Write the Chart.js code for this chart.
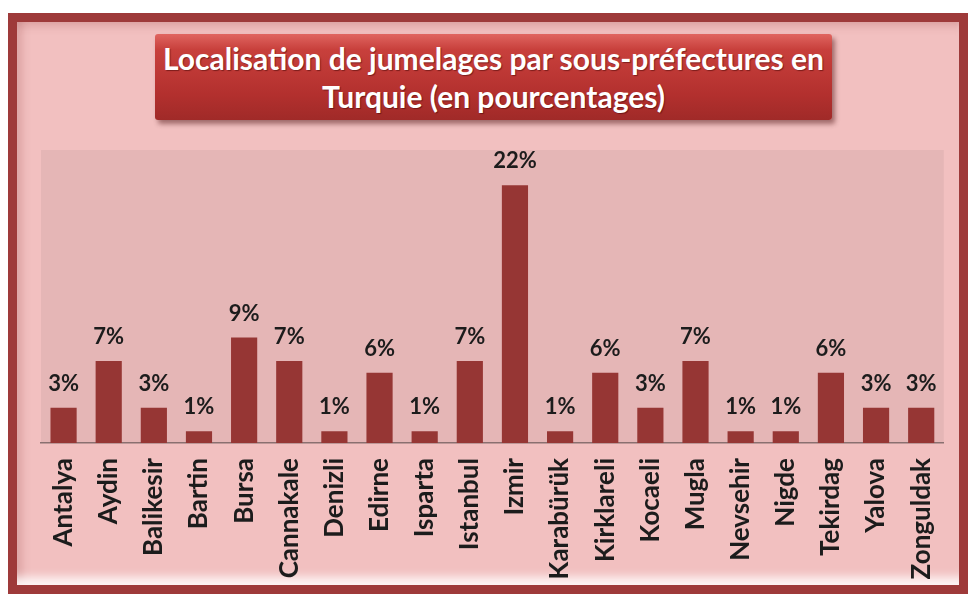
<!DOCTYPE html>
<html>
<head>
<meta charset="utf-8">
<script src="https://cdn.jsdelivr.net/npm/chart.js@4/dist/chart.umd.min.js"></script>
<style>
  html, body { margin: 0; padding: 0; background: #ffffff; }
  body { width: 968px; height: 594px; position: relative; overflow: hidden; }
  .frame {
    position: absolute; left: 8px; top: 13px; width: 942px; height: 563px;
    border: 9px solid #9e3a3a; background: #f2c0c0;
    box-shadow: inset 0 -14px 10px -6px rgba(255,255,255,0.85),
                inset 10px 0 10px -6px rgba(140,50,50,0.25),
                inset 0 10px 10px -6px rgba(140,50,50,0.2);
  }
  .title {
    position: absolute; left: 155px; top: 34px; width: 677px; height: 86px;
    background: linear-gradient(#e06560 0%, #c8403c 18%, #b3302e 70%, #a02a28 100%);
    border-radius: 3px;
    box-shadow: 3px 4px 5px rgba(60,0,0,0.45);
    color: #ffffff; font-family: Lato, sans-serif; font-weight: bold;
    font-size: 30px; line-height: 38px; text-align: center;
    padding-top: 5px; box-sizing: border-box; white-space: nowrap;
    text-shadow: 1px 1px 1px rgba(60,0,0,0.5);
  }
  canvas { position: absolute; left: 0; top: 0; }
</style>
</head>
<body>
<div class="frame"></div>
<div class="title">Localisation de jumelages par sous-préfectures en<br>Turquie (en pourcentages)</div>
<canvas id="chart" width="968" height="594"></canvas>
<script>
const cities = ['Antalya', 'Aydin', 'Balikesir', 'Bartin', 'Bursa', 'Cannakale', 'Denizli', 'Edirne', 'Isparta', 'Istanbul',
    'Izmir', 'Karabürük', 'Kirklareli', 'Kocaeli', 'Mugla', 'Nevsehir', 'Nigde', 'Tekirdag', 'Yalova', 'Zonguldak'];
const percentages = [3, 7, 3, 1, 9, 7, 1, 6, 1, 7, 22, 1, 6, 3, 7, 1, 1, 6, 3, 3];

const plotBackground = {
    id: 'plotBackground',
    beforeDraw: (chart) => {
        const { ctx, chartArea } = chart;
        ctx.save();
        ctx.fillStyle = '#e5b6b6';
        ctx.fillRect(chartArea.left, chartArea.top, chartArea.right - chartArea.left, chartArea.bottom - chartArea.top);
        ctx.restore();
    }
};

const valueLabels = {
    id: 'valueLabels',
    afterDatasetsDraw: (chart) => {
        const { ctx } = chart;
        const meta = chart.getDatasetMeta(0);
        ctx.save();
        ctx.font = 'bold 22px Lato, sans-serif';
        ctx.fillStyle = '#1c1c1c';
        ctx.textAlign = 'center';
        ctx.textBaseline = 'alphabetic';
        meta.data.forEach((bar, i) => {
            ctx.fillText(percentages[i] + '%', bar.x, bar.y - 17);
        });
        ctx.restore();
    }
};

const ctx = document.getElementById('chart').getContext('2d');
new Chart(ctx, {
    type: 'bar',
    data: {
        labels: cities,
        datasets: [{
            data: percentages,
            backgroundColor: '#963634',
            borderWidth: 0,
            barPercentage: 0.58,
            categoryPercentage: 1,
        }]
    },
    options: {
        responsive: false,
        animation: false,
        layout: { padding: { left: 41, right: 24, top: 150, bottom: 6 } },
        plugins: {
            legend: { display: false },
            tooltip: { enabled: false },
        },
        scales: {
            x: {
                grid: { display: false, drawTicks: false },
                border: { display: true, color: '#8a7070', width: 1.5 },
                afterFit: (scale) => { scale.height = 145; },
                ticks: {
                    maxRotation: 90, minRotation: 90,
                    padding: 15,
                    color: '#1c1c1c',
                    font: { family: 'Lato, sans-serif', weight: 'bold', size: 26 },
                },
            },
            y: {
                display: false,
                min: 0,
                max: 25,
            }
        }
    },
    plugins: [plotBackground, valueLabels]
});
</script>
</body>
</html>
